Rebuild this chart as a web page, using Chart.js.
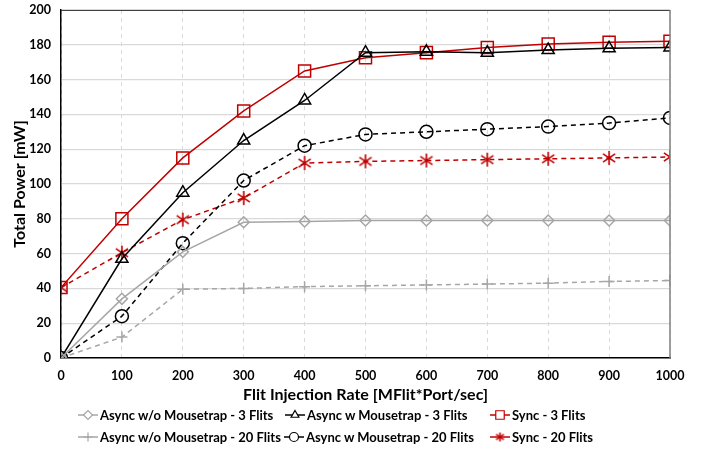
<!DOCTYPE html>
<html>
<head>
<meta charset="utf-8">
<script src="https://cdn.jsdelivr.net/npm/chart.js@4/dist/chart.umd.min.js"></script>
<style>
  html, body { margin: 0; padding: 0; background: #fff; }
  #wrap { position: relative; width: 704px; height: 451px; }
  .item { position: absolute; display: flex; align-items: center; white-space: nowrap;
          font-family: Lato, "Open Sans", sans-serif; font-weight: bold; font-size: 13px; color: #000; }
  .item canvas { margin-right: 2px; }
</style>
</head>
<body>
<div id="wrap">
  <canvas id="myChart" width="704" height="451"></canvas>
  <div id="legend"></div>
</div>
<script>
// data
const rates = [0, 100, 200, 300, 400, 500, 600, 700, 800, 900, 1000];
const asyncNoMt3 = [0, 34, 61, 78, 78.5, 79, 79, 79, 79, 79, 79];
const asyncMt3 = [0, 57, 95, 125, 148, 175.5, 176, 175.5, 177, 178, 178.5];
const sync3 = [40.5, 80, 115, 142, 165, 172.5, 175.5, 178.5, 180.5, 181.5, 182];
const asyncNoMt20 = [0, 12, 39.5, 40, 41, 41.5, 42, 42.5, 43, 44, 44.5];
const asyncMt20 = [0, 24, 66, 102, 122, 128.5, 130, 131.5, 133, 135, 138];
const sync20 = [40.5, 60.5, 79.5, 92, 112, 113, 113.5, 114, 114.5, 115, 115.5];
const yTicks = [0, 20, 40, 60, 80, 100, 120, 140, 160, 180, 200];

const RED = '#C00000';
const GRAY = '#A6A6A6';
const FONT = 'Lato, "Open Sans", sans-serif';

// six-armed asterisk marker like the spreadsheet one
function asterisk(size, color) {
    const c = document.createElement('canvas');
    c.width = size; c.height = size;
    const g = c.getContext('2d');
    const m = size / 2, r = size / 2 - 1;
    g.strokeStyle = color;
    g.lineWidth = 1.6;
    g.beginPath();
    g.moveTo(m, m - r); g.lineTo(m, m + r);
    g.moveTo(m - r * 0.87, m - r * 0.6); g.lineTo(m + r * 0.87, m + r * 0.6);
    g.moveTo(m - r * 0.87, m + r * 0.6); g.lineTo(m + r * 0.87, m - r * 0.6);
    g.stroke();
    return c;
}

function pts(values) {
    return rates.map((r, i) => ({ x: r, y: values[i] }));
}

function series(label, values, color, style, radius, dashed) {
    return {
        label: label,
        data: pts(values),
        borderColor: color,
        backgroundColor: 'rgba(255,255,255,0)',
        pointBackgroundColor: 'rgba(255,255,255,0)',
        pointBorderColor: color,
        pointStyle: style,
        pointRadius: radius,
        pointBorderWidth: 1.5,
        borderWidth: 1.5,
        borderDash: dashed ? [5, 4] : [],
        tension: 0
    };
}

// top and right frame of the plot area
const frame = {
    id: 'frame',
    afterDraw(chart) {
        const a = chart.chartArea, c = chart.ctx;
        c.save();
        c.lineWidth = 1;
        c.strokeStyle = '#404040';
        c.beginPath(); c.moveTo(a.left, a.top + 0.5); c.lineTo(a.right, a.top + 0.5); c.stroke();
        c.strokeStyle = '#7f7f7f';
        c.lineWidth = 1.5;
        c.beginPath(); c.moveTo(a.right, a.top); c.lineTo(a.right, a.bottom); c.stroke();
        c.restore();
    }
};

const ctx = document.getElementById('myChart').getContext('2d');
const myChart = new Chart(ctx, {
    type: 'line',
    data: {
        datasets: [
            series('Async w/o Mousetrap - 3 Flits', asyncNoMt3, GRAY, 'rectRot', 5.5, false),
            series('Async w Mousetrap - 3 Flits', asyncMt3, '#000', 'triangle', 7, false),
            series('Sync - 3 Flits', sync3, RED, 'rect', 8.5, false),
            series('Async w/o Mousetrap - 20 Flits', asyncNoMt20, GRAY, 'cross', 5.5, true),
            series('Async w Mousetrap - 20 Flits', asyncMt20, '#000', 'circle', 6.5, true),
            series('Sync - 20 Flits', sync20, RED, asterisk(16, RED), 8, true)
        ]
    },
    options: {
        responsive: false,
        animation: false,
        layout: { padding: { left: 0, right: 34, top: 0, bottom: 47 } },
        plugins: {
            tooltip: { enabled: false },
            legend: { display: false }
        },
        scales: {
            x: {
                type: 'linear',
                min: 0,
                max: 1000,
                afterFit(axis) { axis.height = 46; },
                ticks: { stepSize: 100, padding: 10, color: '#000', callback: v => String(v), font: { family: FONT, size: 12.5, weight: 'bold' } },
                grid: { color: '#d9d9d9', drawTicks: false },
                border: { color: '#000', width: 1.5, dash: [4, 4] },
                title: { display: true, text: 'Flit Injection Rate [MFlit*Port/sec]', color: '#000', font: { family: FONT, size: 16, weight: 'bold' }, padding: { top: 0, bottom: 0 } }
            },
            y: {
                min: 0,
                max: 200,
                afterBuildTicks(axis) { axis.ticks = yTicks.map(v => ({ value: v })); },
                afterFit(axis) { axis.width = 61; axis.paddingTop = 9; axis.paddingBottom = 0; },
                ticks: { color: '#000', padding: 10, font: { family: FONT, size: 12.5, weight: 'bold' } },
                grid: { color: '#d9d9d9', lineWidth: 1.2, drawTicks: false },
                border: { color: '#000', width: 1.5 },
                title: { display: true, text: 'Total Power [mW]', color: '#000', font: { family: FONT, size: 16, weight: 'bold' }, padding: { top: 10, bottom: 0 } }
            }
        }
    },
    plugins: [frame]
});

// legend laid out like the reference: two rows of three
const legend = document.getElementById('legend');
const items = myChart.data.datasets.map(ds => {
    const item = document.createElement('div');
    item.className = 'item';
    const icon = document.createElement('canvas');
    icon.width = 20; icon.height = 16;
    const ic = icon.getContext('2d');
    ic.strokeStyle = ds.borderColor;
    ic.lineWidth = 1.5;
    ic.beginPath(); ic.moveTo(0, 8); ic.lineTo(20, 8); ic.stroke();
    ic.fillStyle = '#fff';
    ic.lineWidth = 1.2;
    const style = typeof ds.pointStyle === 'string' ? ds.pointStyle : asterisk(11, ds.borderColor);
    Chart.helpers.drawPoint(ic, {
        pointStyle: style,
        radius: style === 'rect' ? 6 : 4.5,
        borderWidth: 1.2
    }, 10, 8);
    item.appendChild(icon);
    const span = document.createElement('span');
    span.textContent = ds.label;
    item.appendChild(span);
    legend.appendChild(item);
    return item;
});
const rows = [[items[0], items[1], items[2], 12, 407, 285], [items[3], items[4], items[5], 3, 429, 0]];
rows.forEach(([a, b, c, gap, top, minB]) => {
    [a, b, c].forEach(el => { el.style.top = top + 'px'; });
    a.style.left = '78px';
    const bLeft = Math.max(minB, 78 + a.offsetWidth + gap);
    b.style.left = bLeft + 'px';
    c.style.left = Math.max(490, bLeft + b.offsetWidth + 12) + 'px';
});
</script>
</body>
</html>
